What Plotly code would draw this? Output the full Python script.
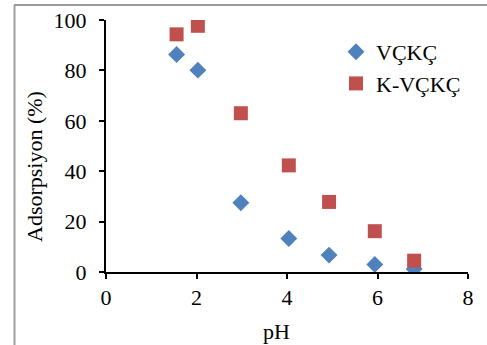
import plotly.graph_objects as go

ph = [1.56, 2.03, 2.98, 4.04, 4.93, 5.94, 6.81]
vckc = [86.3, 80.1, 27.5, 13.3, 6.7, 3.0, 1.2]
k_vckc = [94.3, 97.7, 63.0, 42.3, 27.8, 16.2, 4.5]

FONT = "Times New Roman, Liberation Serif, serif"
FS = 22

fig = go.Figure()
fig.add_trace(go.Scatter(x=ph, y=vckc, mode="markers", name="VÇKÇ",
                         marker=dict(symbol="diamond", size=13, color="#4F81BD")))
fig.add_trace(go.Scatter(x=ph, y=k_vckc, mode="markers", name="K-VÇKÇ",
                         marker=dict(symbol="square", size=14, color="#C0504D")))

axis_common = dict(showline=True, linecolor="black", linewidth=2, ticks="outside",
                   ticklen=5, tickcolor="black", tickwidth=1.5, showgrid=False,
                   zeroline=False, automargin=False,
                   tickfont=dict(family=FONT, size=FS, color="black"))

W, H = 487, 345
L, R, T, B = 106, 19, 20, 73
pw, ph_ = W - L - R, H - T - B

def px(x):
    return (x - L) / pw

def py(y):
    return (H - B - y) / ph_

fig.update_layout(
    width=W, height=H,
    margin=dict(l=L, r=R, t=T, b=B),
    plot_bgcolor="white", paper_bgcolor="white",
    font=dict(family=FONT, size=FS, color="black"),
    xaxis=dict(range=[0, 8], dtick=2, **axis_common),
    yaxis=dict(range=[0, 100], dtick=20, ticklabelstandoff=8, **axis_common),
    legend=dict(x=px(336), y=py(31), xanchor="left", yanchor="top", bgcolor="rgba(0,0,0,0)",
                font=dict(family=FONT, size=FS), itemwidth=30, tracegroupgap=0),
    showlegend=True,
    annotations=[
        dict(text="pH", xref="paper", yref="paper", x=px(276), y=py(331),
             showarrow=False, font=dict(family=FONT, size=FS), xanchor="center", yanchor="middle"),
        dict(text="Adsorpsiyon (%)", xref="paper", yref="paper", x=px(35), y=py(167),
             showarrow=False, textangle=-90, font=dict(family=FONT, size=FS),
             xanchor="center", yanchor="middle"),
    ],
)

# outer chart frame (gray); only its top and left edges fall inside the view
fig.add_shape(type="line", xref="paper", yref="paper",
              x0=px(14), x1=px(487), y0=py(5), y1=py(5),
              line=dict(color="#9A9A9A", width=2), layer="above")
fig.add_shape(type="line", xref="paper", yref="paper",
              x0=px(14.5), x1=px(14.5), y0=py(5), y1=py(345),
              line=dict(color="#A0A0A0", width=2), layer="above")

post = (
    "document.body.style.margin='0';"
    "var e=document.createElement('div');"
    "e.style.cssText='position:absolute;left:14px;top:4px;width:473px;height:2px;"
    "background:#9A9A9A;z-index:10;pointer-events:none;';"
    "document.body.appendChild(e);"
)

fig.write_html("out.html", config={"displayModeBar": False}, post_script=post)
